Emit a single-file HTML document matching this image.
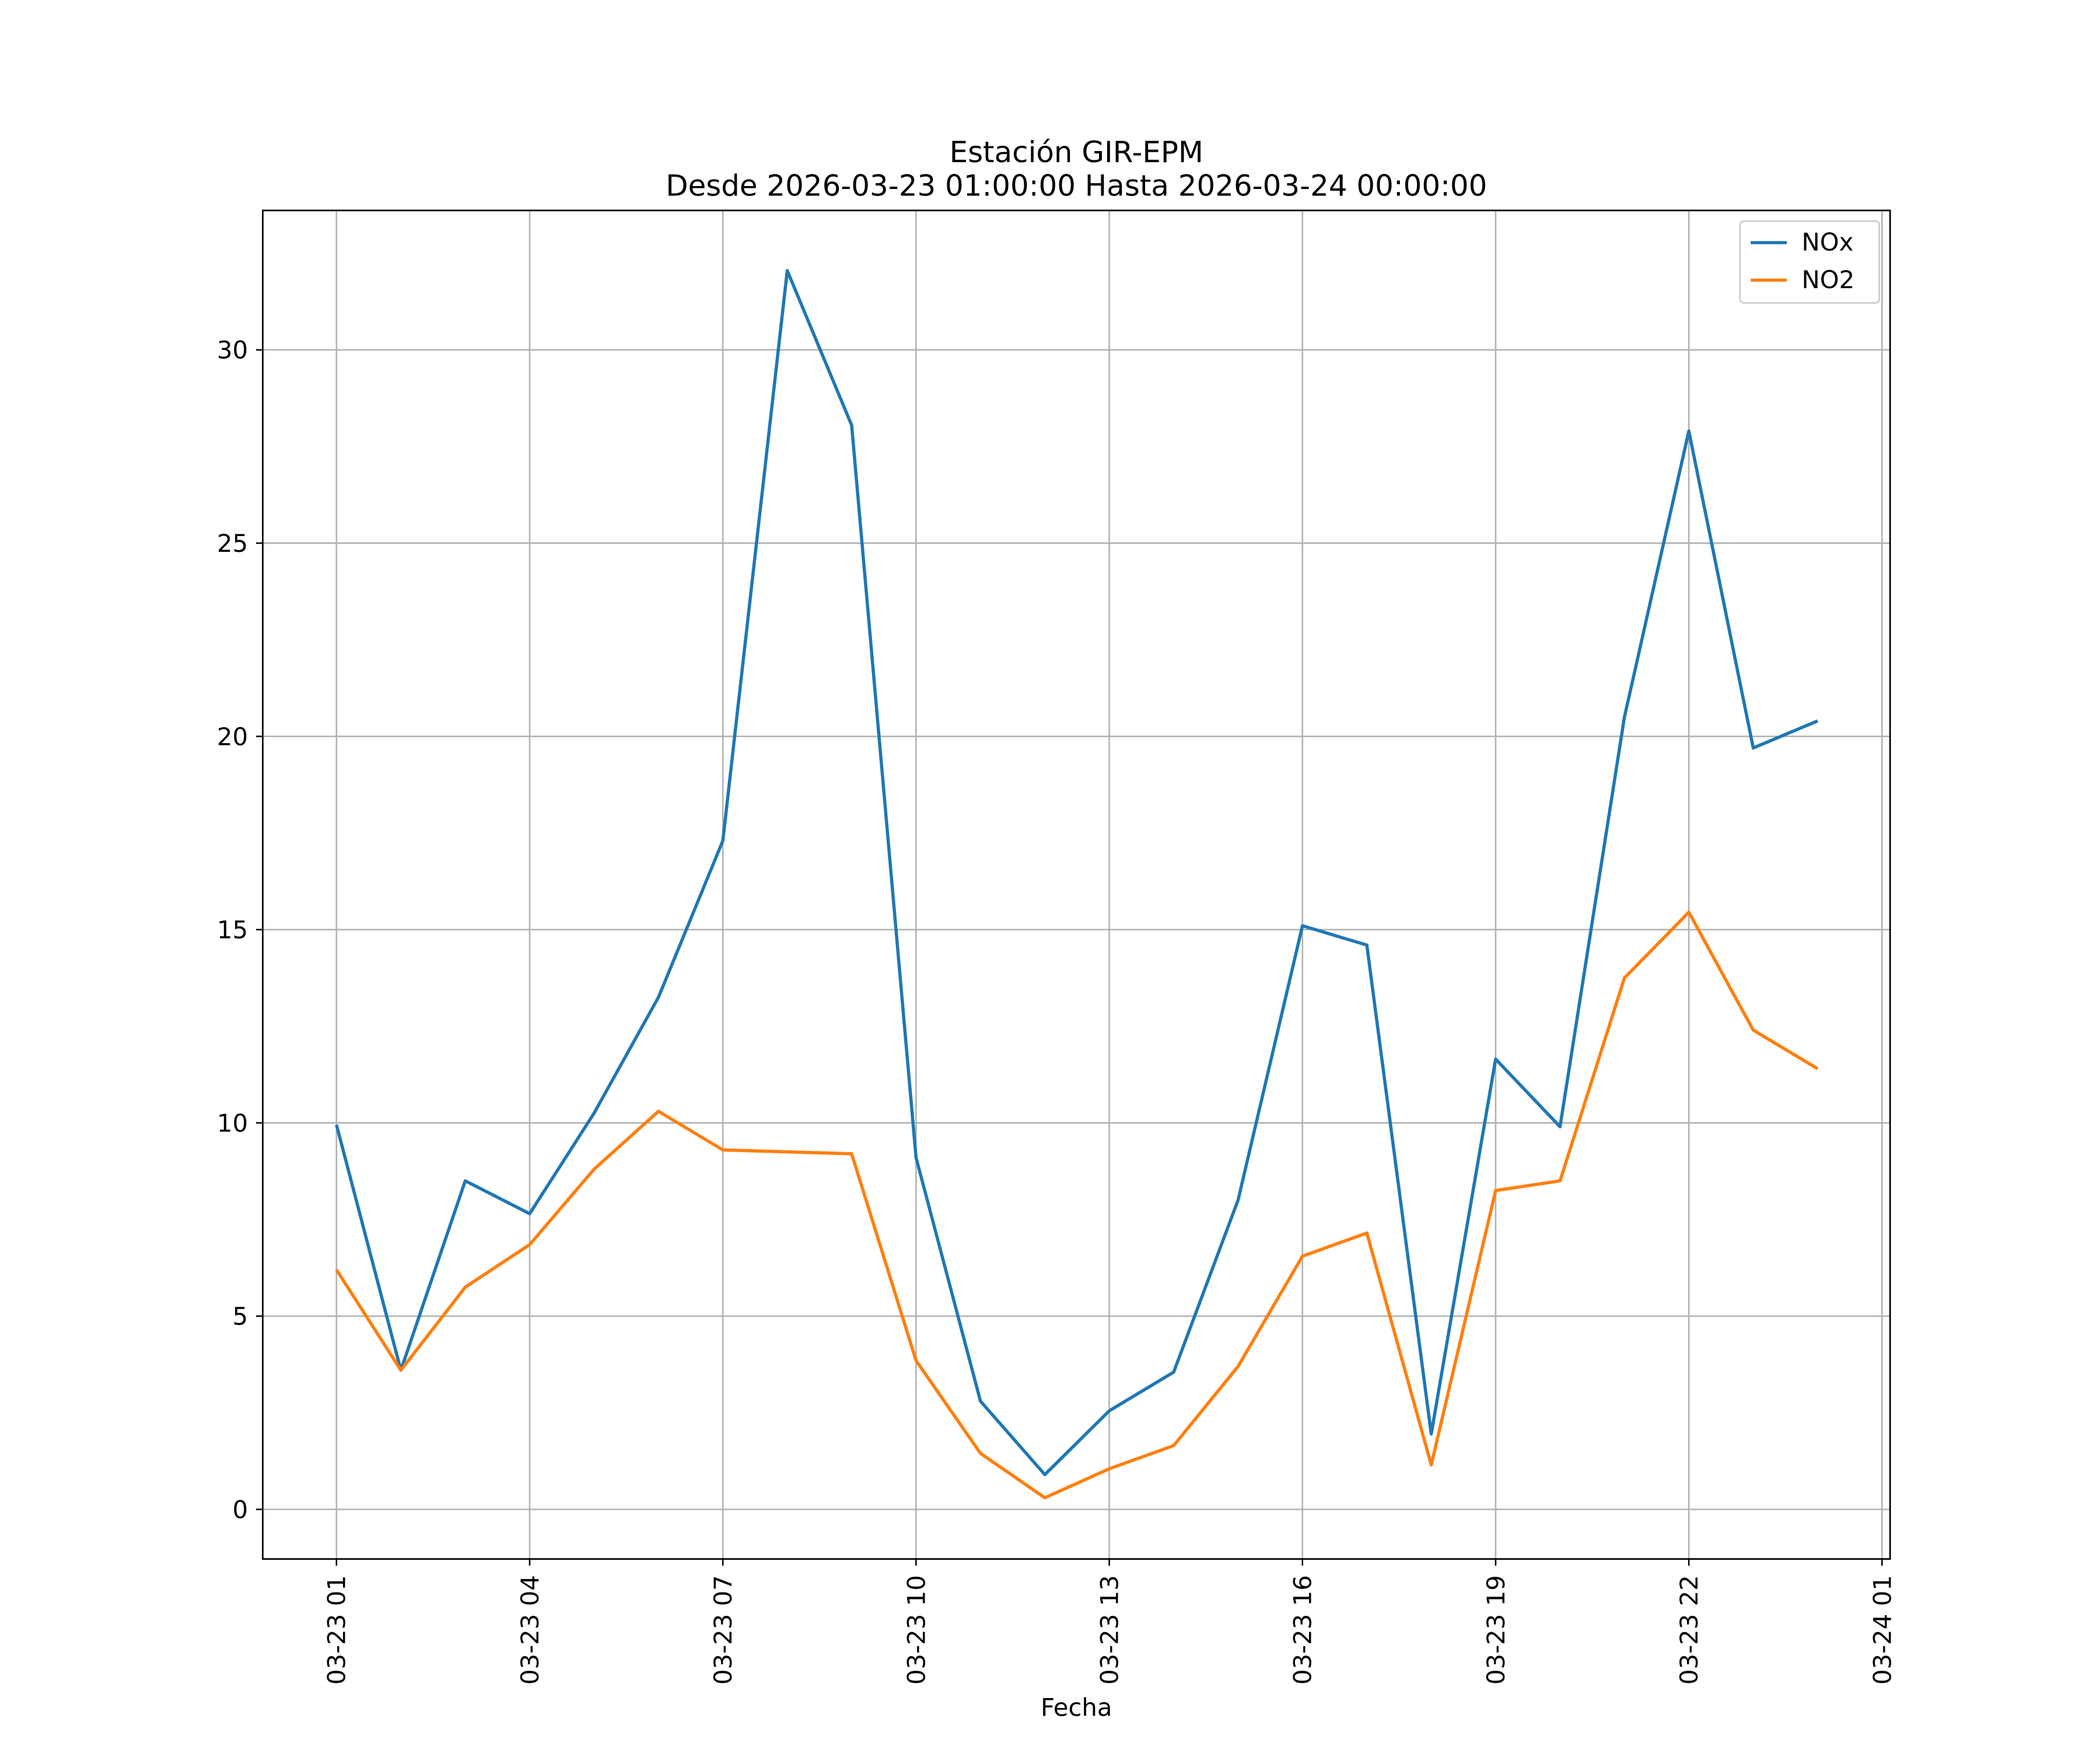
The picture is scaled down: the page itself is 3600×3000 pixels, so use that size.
<!DOCTYPE html>
<html><head><meta charset="utf-8"><style>html,body{margin:0;padding:0;background:#fff}svg{display:block}text{font-family:"DejaVu Sans","Liberation Sans",sans-serif}</style></head>
<body>
<svg id="chart" width="3600" height="3000" viewBox="0 0 1566.6 1305.5" preserveAspectRatio="none" xmlns="http://www.w3.org/2000/svg">
<rect width="1566.6" height="1305.5" fill="#fff"/>
<g id="grid"></g>
<g id="lines"></g>
<rect x="196" y="157" width="1214" height="1006" fill="none" stroke="#000" stroke-width="1.2"/>
<g id="ticks"></g>
<text x="803" y="121" text-anchor="middle" font-size="21.7">Estación GIR-EPM</text>
<text x="803" y="146" text-anchor="middle" font-size="21.7">Desde 2026-03-23 01:00:00 Hasta 2026-03-24 00:00:00</text>
<text x="803" y="1280" text-anchor="middle" font-size="18.2">Fecha</text>
<g>
<rect x="1298" y="165" width="104" height="61" rx="3" fill="#fff" fill-opacity="0.8" stroke="#ccc" stroke-width="1.2"/>
<line x1="1306" y1="181" x2="1333" y2="181" stroke="#1f77b4" stroke-width="2.3"/>
<text x="1344" y="187" font-size="18.2">NOx</text>
<line x1="1306" y1="209" x2="1333" y2="209" stroke="#ff7f0e" stroke-width="2.3"/>
<text x="1344" y="215" font-size="18.2">NO2</text>
</g>
</svg>
<script>
const hours = [1,2,3,4,5,6,7,8,9,10,11,12,13,14,15,16,17,18,19,20,21,22,23,24];
const noxValues = [9.95,3.6,8.5,7.65,10.25,13.25,17.3,32.05,28.05,9.1,2.8,0.9,2.55,3.55,8.0,15.1,14.6,1.95,11.65,9.9,20.5,27.9,19.7,20.4];
const no2Values = [6.2,3.6,5.75,6.85,8.8,10.3,9.3,9.25,9.2,3.85,1.45,0.3,1.05,1.65,3.7,6.55,7.15,1.15,8.25,8.5,13.75,15.45,12.4,11.4];
const yTicks = [0,5,10,15,20,25,30];
const xTickHours = [1,4,7,10,13,16,19,22,25];
const xTickLabels = ["03-23 01","03-23 04","03-23 07","03-23 10","03-23 13","03-23 16","03-23 19","03-23 22","03-24 01"];

const NS="http://www.w3.org/2000/svg";
const xs = h => 251 + (h-1)*(1404-251)/24;
const ys = v => 1126 - v*(1126-261)/30;
function mk(tag, attrs, parent){const e=document.createElementNS(NS,tag);for(const k in attrs)e.setAttribute(k,attrs[k]);parent.appendChild(e);return e;}
const grid=document.getElementById('grid'), ticks=document.getElementById('ticks'), lines=document.getElementById('lines');
yTicks.forEach(v=>{
  const y=ys(v);
  const g=mk('line',{x1:196,x2:1410,y1:y,y2:y,stroke:'#b0b0b0','stroke-width':1.1},grid);
  
  
  mk('line',{x1:191,x2:196,y1:y,y2:y,stroke:'#000','stroke-width':1.1},ticks);
  const t=mk('text',{x:185,y:y+6.5,'text-anchor':'end','font-size':18.2},ticks);
  t.textContent=v;
  
  
});
xTickHours.forEach((h,i)=>{
  const x=xs(h);
  const g=mk('line',{x1:x,x2:x,y1:157,y2:1163,stroke:'#b0b0b0','stroke-width':1.1},grid);
  
  
  mk('line',{x1:x,x2:x,y1:1163,y2:1168,stroke:'#000','stroke-width':1.1},ticks);
  const t=mk('text',{x:0,y:0,'text-anchor':'end','font-size':18.2,transform:`translate(${x+6.5},1175) rotate(-90)`},ticks);
  t.textContent=xTickLabels[i];
  
  
});
function series(vals,color,name){
  const p=mk('polyline',{points:vals.map((v,i)=>xs(hours[i])+','+ys(v)).join(' '),fill:'none',stroke:color,'stroke-width':2.4,'stroke-linejoin':'round'},lines);
  
  
}
series(noxValues,'#1f77b4','nox-line');
series(no2Values,'#ff7f0e','no2-line');
</script>
</body></html>
